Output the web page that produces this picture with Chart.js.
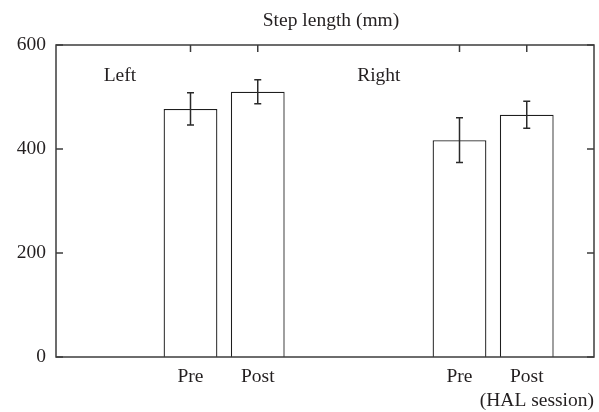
<!DOCTYPE html>
<html>
<head>
<meta charset="utf-8">
<script src="https://cdn.jsdelivr.net/npm/chart.js@4/dist/chart.umd.min.js"></script>
<style>
  html, body { margin: 0; padding: 0; background: #ffffff; }
  #wrap { width: 599px; height: 412px; position: relative; }
</style>
</head>
<body>
<div id="wrap"><canvas id="chart" width="599" height="412"></canvas></div>
<script>
// Step length (mm), mean and standard deviation per leg and session
const sides = ['Left', 'Right'];
const sessions = ['Pre', 'Post'];
const leftMeans = [477, 510];
const leftSD = [31, 23];
const rightMeans = [417, 466];
const rightSD = [43, 26];
const yTicks = [0, 200, 400, 600];

const chartTitle = 'Step length (mm)';
const xAxisNote = '(HAL session)';

// Slots along the x axis: two empty slots, the Left pair, two empty slots, the Right pair, one empty slot
const labels = ['', '', ...sessions, '', '', ...sessions, ''];
const means = [null, null, ...leftMeans, null, null, ...rightMeans, null];
const sds = [null, null, ...leftSD, null, null, ...rightSD, null];

const FONT = '"Liberation Serif", "DejaVu Serif", serif';
const FONT_SIZE = 19.5;
const INK = '#231f20';
const FRAME = '#3c3c3c';

// Frame with inward ticks, error bars and the free-standing text
const decorations = {
  id: 'decorations',
  afterDatasetsDraw(chart) {
    const { ctx, chartArea: a, scales: { x, y } } = chart;
    ctx.save();

    // error bars
    ctx.strokeStyle = '#2a2a2a';
    ctx.lineWidth = 1.5;
    means.forEach((m, i) => {
      if (m == null) return;
      const px = x.getPixelForValue(i);
      const top = y.getPixelForValue(m + sds[i]);
      const bot = y.getPixelForValue(m - sds[i]);
      const cap = 3.5;
      ctx.beginPath();
      ctx.moveTo(px, top); ctx.lineTo(px, bot);
      ctx.moveTo(px - cap, top); ctx.lineTo(px + cap, top);
      ctx.moveTo(px - cap, bot); ctx.lineTo(px + cap, bot);
      ctx.stroke();
    });

    // frame
    ctx.strokeStyle = FRAME;
    ctx.lineWidth = 1.5;
    ctx.strokeRect(a.left, a.top, a.right - a.left, a.bottom - a.top);

    // inward ticks on left and right for the y values
    const tl = 7;
    ctx.beginPath();
    yTicks.forEach(v => {
      const py = y.getPixelForValue(v);
      ctx.moveTo(a.left, py); ctx.lineTo(a.left + tl, py);
      ctx.moveTo(a.right, py); ctx.lineTo(a.right - tl, py);
    });
    // inward ticks on top at each bar position
    means.forEach((m, i) => {
      if (m == null) return;
      const px = x.getPixelForValue(i);
      ctx.moveTo(px, a.top); ctx.lineTo(px, a.top + tl);
    });
    ctx.stroke();

    // text
    ctx.fillStyle = INK;
    ctx.font = FONT_SIZE + 'px ' + FONT;
    ctx.textBaseline = 'middle';
    ctx.textAlign = 'center';
    ctx.fillText(chartTitle, 331, 21);
    ctx.fillText(sides[0], x.getPixelForValue(0.95), y.getPixelForValue(541));
    ctx.fillText(sides[1], x.getPixelForValue(4.8), y.getPixelForValue(541));
    ctx.textAlign = 'right';
    ctx.fillText(xAxisNote, a.right, 401);
    ctx.restore();
  }
};

new Chart(document.getElementById('chart'), {
  type: 'bar',
  data: {
    labels: labels,
    datasets: [{
      data: means,
      backgroundColor: '#ffffff',
      borderColor: '#1e1e1e',
      borderWidth: 1.3,
      borderSkipped: 'bottom',
      categoryPercentage: 1.0,
      barPercentage: 0.8
    }]
  },
  options: {
    responsive: false,
    animation: false,
    devicePixelRatio: 1,
    layout: { padding: { top: 45, right: 5, left: 0, bottom: 0 } },
    plugins: {
      legend: { display: false },
      title: { display: false },
      tooltip: { enabled: false }
    },
    scales: {
      x: {
        type: 'category',
        offset: false,
        grid: { display: false },
        border: { display: false },
        ticks: {
          autoSkip: false,
          maxRotation: 0,
          padding: 0,
          color: INK,
          font: { family: FONT, size: FONT_SIZE }
        },
        afterFit(scale) { scale.height = 55; }
      },
      y: {
        min: 0,
        max: 600,
        grid: { display: false },
        border: { display: false },
        afterBuildTicks(scale) { scale.ticks = yTicks.map(v => ({ value: v })); },
        ticks: {
          padding: 2,
          color: INK,
          font: { family: FONT, size: FONT_SIZE }
        },
        afterFit(scale) { scale.width = 56; }
      }
    }
  },
  plugins: [decorations]
});
</script>
</body>
</html>
